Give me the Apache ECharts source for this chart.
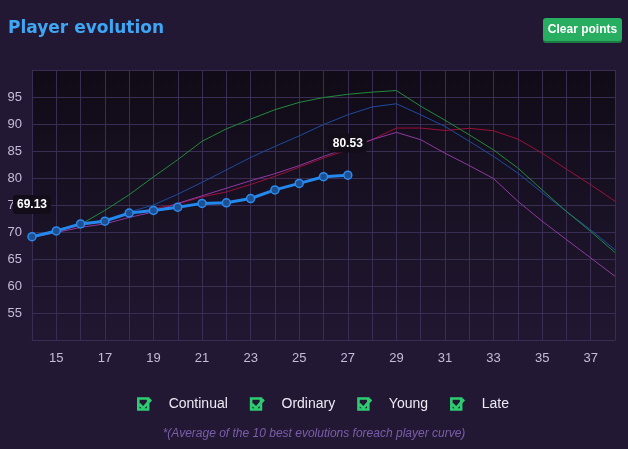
<!DOCTYPE html>
<html>
<head>
<meta charset="utf-8">
<script src="https://cdn.jsdelivr.net/npm/echarts@6/dist/echarts.min.js"></script>
<style>
  html, body { margin: 0; padding: 0; background: #221834; }
  #evolution-chart { width: 628px; height: 449px; }
</style>
</head>
<body>
<div id="evolution-chart"></div>
<script>
// ==============================================================
// Player evolution data (ages 14 -> 38)
// ==============================================================
var ages = [14, 15, 16, 17, 18, 19, 20, 21, 22, 23, 24, 25, 26, 27, 28, 29, 30, 31, 32, 33, 34, 35, 36, 37, 38];
var yTicks = [55, 60, 65, 70, 75, 80, 85, 90, 95];

var continual = [69.13, 70.3, 71.3, 72.3, 73.7, 75.0, 77.0, 79.2, 81.5, 83.8, 85.85, 87.8, 89.9, 91.7, 93.15, 93.75, 91.7, 89.55, 86.8, 84.0, 80.9, 77.3, 73.8, 70.4, 66.7];
var ordinary = [69.0, 69.9, 70.85, 71.5, 72.7, 73.7, 75.3, 76.7, 78.1, 79.5, 80.8, 82.3, 84.0, 85.55, 87.1, 88.45, 87.1, 84.6, 82.3, 79.9, 75.7, 72.0, 68.6, 65.2, 61.8];
var young = [69.13, 70.3, 71.4, 74.0, 76.9, 80.2, 83.4, 86.8, 89.1, 90.9, 92.65, 94.0, 94.9, 95.5, 95.9, 96.2, 93.3, 90.7, 88.0, 85.2, 81.85, 77.8, 73.8, 70.1, 66.2];
var late = [69.0, 70.1, 71.2, 72.0, 73.3, 74.3, 75.2, 76.5, 77.4, 78.8, 80.3, 82.0, 83.7, 85.2, 87.1, 89.25, 89.25, 88.8, 89.2, 88.75, 87.2, 84.6, 81.65, 78.75, 75.7];

var playerAges = [14, 15, 16, 17, 18, 19, 20, 21, 22, 23, 24, 25, 26, 27];
var playerValues = [69.13, 70.2, 71.5, 72.0, 73.5, 74.0, 74.6, 75.3, 75.4, 76.2, 77.8, 79.0, 80.24, 80.53];

var gridColor = '#3a2d54';
var labelColor = '#c6bad8';
// checkbox: ring + tick (tick leaves the box at top right)
var checkIcon = 'path://M1 2L13 2L13 15L1 15Z M3.5 4.5L3.5 12.5L10.5 12.5L10.5 4.5Z M4 7.5L7 10.5L13.5 3L15.5 5L7 14L2 9.5Z';

function pairs(xs, ys) {
	return xs.map(function (x, i) { return [x, ys[i]]; });
}

// first and last player points carry a value tag
var playerData = pairs(playerAges, playerValues).map(function (p, i) {
	if (i === 0 || i === playerValues.length - 1) {
		return { value: p, label: { show: true } };
	}
	return p;
});

function curve(name, data, color) {
	return {
		name: name
		, type: 'line'
		, data: pairs(ages, data)
		, showSymbol: false
		, symbol: 'none'
		, lineStyle: { color: color, width: 1 }
		, itemStyle: { color: color }
		, silent: true
	};
}

var chart = echarts.init(document.getElementById('evolution-chart'));
var option = {
	backgroundColor: '#221834'
	, animation: false
	, title: {
		text: 'Player evolution'
		, left: 3
		, top: 15
		, textStyle: {
			color: '#3ea6f4'
			, fontSize: 17
			, fontWeight: 'bold'
			, fontFamily: 'DejaVu Sans'
		}
	}
	, legend: {
		data: ['Continual', 'Ordinary', 'Young', 'Late']
		, left: 132
		, top: 392
		, icon: checkIcon
		, itemWidth: 15
		, itemHeight: 15
		, itemGap: 22
		, itemStyle: { color: '#2ecc71' }
		, formatter: '   {name}'
		, textStyle: {
			color: '#eeeaf4'
			, fontSize: 14
			, fontFamily: 'Liberation Sans'
		}
	}
	, grid: {
		left: 32
		, right: 13
		, top: 70
		, bottom: 109
		, show: true
		, borderWidth: 0
		, backgroundColor: {
			type: 'linear', x: 0, y: 0, x2: 0, y2: 1
			, colorStops: [
				{ offset: 0, color: '#100b16' }
				, { offset: 1, color: '#211731' }
			]
		}
	}
	, xAxis: {
		type: 'value'
		, min: 14
		, max: 38
		, interval: 1
		, axisLine: { show: true, lineStyle: { color: gridColor } }
		, axisTick: { show: false }
		, splitLine: { show: true, lineStyle: { color: gridColor } }
		, axisLabel: {
			color: labelColor
			, fontSize: 13
			, fontFamily: 'Liberation Sans'
			, margin: 12
			, formatter: function (v) { return v % 2 === 1 ? String(v) : ''; }
		}
	}
	, yAxis: {
		type: 'value'
		, min: 50
		, max: 100
		, interval: 5
		, axisLine: { show: true, lineStyle: { color: gridColor } }
		, axisTick: { show: false }
		, splitLine: { show: true, lineStyle: { color: gridColor } }
		, axisLabel: {
			color: labelColor
			, fontSize: 13
			, fontFamily: 'Liberation Sans'
			, margin: 10
			, formatter: function (v) { return yTicks.indexOf(v) >= 0 ? String(v) : ''; }
		}
	}
	, graphic: [
		{
			type: 'rect'
			, left: 543
			, top: 20
			, shape: { width: 79, height: 23, r: 3 }
			, style: { fill: '#1e7a43' }
		}
		, {
			type: 'rect'
			, left: 543
			, top: 18
			, shape: { width: 79, height: 23, r: 3 }
			, style: { fill: '#27ae60' }
		}
		, {
			type: 'text'
			, x: 582.5
			, y: 29.5
			, style: {
				text: 'Clear points'
				, fill: '#ffffff'
				, font: 'bold 12px "Liberation Sans"'
				, align: 'center'
				, verticalAlign: 'middle'
			}
		}
		, {
			type: 'text'
			, left: 'center'
			, top: 428
			, style: {
				text: '*(Average of the 10 best evolutions foreach player curve)'
				, fill: '#7b5eaa'
				, font: 'italic 12px "Liberation Sans"'
			}
		}
	]
	, series: [
		curve('Continual', continual, '#1d4b9e')
		, curve('Late', late, '#9c1039')
		, curve('Ordinary', ordinary, '#8f3aa1')
		, curve('Young', young, '#1f8b3c')
		, {
			name: 'Player'
			, type: 'line'
			, data: playerData
			, symbol: 'circle'
			, symbolSize: 8
			, z: 5
			, lineStyle: { color: '#2389ee', width: 3 }
			, itemStyle: { color: '#1e4f8f', borderColor: '#2a8cf0', borderWidth: 1.5 }
			, label: {
				show: false
				, position: 'top'
				, distance: 18
				, color: '#ffffff'
				, fontSize: 12
				, fontWeight: 'bold'
				, fontFamily: 'Liberation Sans'
				, backgroundColor: '#120d19'
				, padding: [4, 4, 3, 4]
				, borderRadius: 3
				, formatter: function (p) { return p.value[1].toFixed(2); }
			}
		}
	]
};
chart.setOption(option, true);
</script>
</body>
</html>
